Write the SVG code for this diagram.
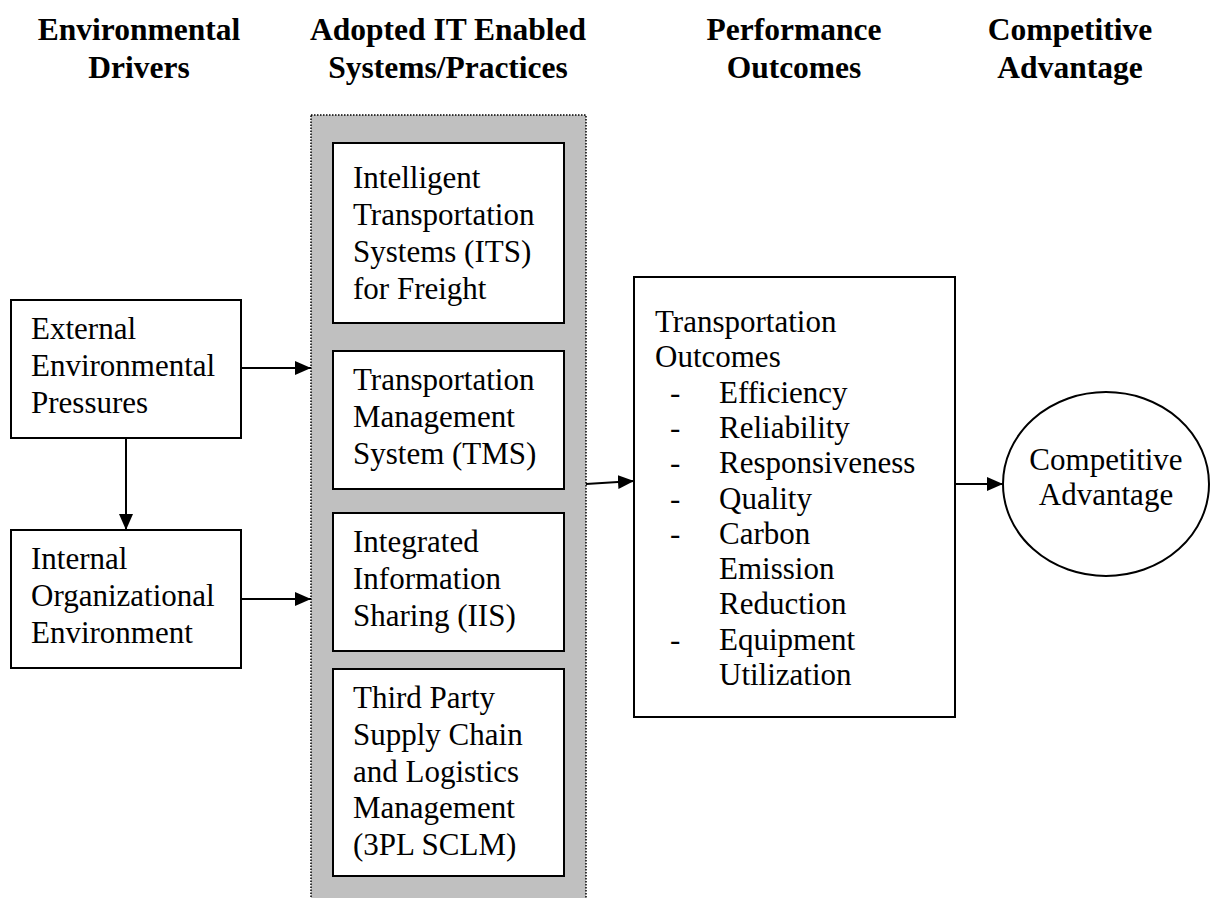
<svg xmlns="http://www.w3.org/2000/svg" width="1211" height="898" viewBox="0 0 1211 898">
<style>
.hd{font-family:"Liberation Serif","Times New Roman",serif;font-weight:bold;font-size:31.5px;fill:#000;text-anchor:middle}
.tx{font-family:"Liberation Serif","Times New Roman",serif;font-size:31px;fill:#000}
.box{fill:#fff;stroke:#000;stroke-width:2}
.ln{stroke:#000;stroke-width:2;fill:none}
</style>
<defs>
<marker id="ah" markerUnits="userSpaceOnUse" markerWidth="16" markerHeight="14" refX="16" refY="7" orient="auto">
<path d="M0,0 L16,7 L0,14 Z" fill="#000"/>
</marker>
</defs>
<rect width="1211" height="898" fill="#fff"/>
<g id="headers">
<text class="hd" x="139" y="40">Environmental</text>
<text class="hd" x="139" y="78">Drivers</text>
<text class="hd" x="448" y="40">Adopted IT Enabled</text>
<text class="hd" x="448" y="78">Systems/Practices</text>
<text class="hd" x="794" y="40">Performance</text>
<text class="hd" x="794" y="78">Outcomes</text>
<text class="hd" x="1070" y="40">Competitive</text>
<text class="hd" x="1070" y="78">Advantage</text>
</g>
<g id="external">
<rect class="box" x="11" y="300" width="230" height="138"/>
<text class="tx" x="31" y="339">External</text>
<text class="tx" x="31" y="376">Environmental</text>
<text class="tx" x="31" y="413">Pressures</text>
</g>
<g id="internal">
<rect class="box" x="11" y="530" width="230" height="138"/>
<text class="tx" x="31" y="569">Internal</text>
<text class="tx" x="31" y="606">Organizational</text>
<text class="tx" x="31" y="643">Environment</text>
</g>
<g id="it-systems">
<rect x="311" y="115" width="275" height="800" fill="#c0c0c0" stroke="#000" stroke-width="1.5" stroke-dasharray="1.5,1.5"/>
</g>
<g id="its">
<rect class="box" x="333" y="143" width="231" height="180"/>
<text class="tx" x="353" y="188">Intelligent</text>
<text class="tx" x="353" y="225">Transportation</text>
<text class="tx" x="353" y="262">Systems (ITS)</text>
<text class="tx" x="353" y="299">for Freight</text>
</g>
<g id="tms">
<rect class="box" x="333" y="351" width="231" height="138"/>
<text class="tx" x="353" y="390">Transportation</text>
<text class="tx" x="353" y="427">Management</text>
<text class="tx" x="353" y="464">System (TMS)</text>
</g>
<g id="iis">
<rect class="box" x="333" y="513" width="231" height="138"/>
<text class="tx" x="353" y="552">Integrated</text>
<text class="tx" x="353" y="589">Information</text>
<text class="tx" x="353" y="626">Sharing (IIS)</text>
</g>
<g id="sclm">
<rect class="box" x="333" y="669" width="231" height="207"/>
<text class="tx" x="353" y="708">Third Party</text>
<text class="tx" x="353" y="745">Supply Chain</text>
<text class="tx" x="353" y="782">and Logistics</text>
<text class="tx" x="353" y="818">Management</text>
<text class="tx" x="353" y="855">(3PL SCLM)</text>
</g>
<g id="outcomes">
<rect class="box" x="634" y="277" width="321" height="440"/>
<text class="tx" x="655" y="332">Transportation</text>
<text class="tx" x="655" y="367">Outcomes</text>
<text class="tx" x="670" y="403">-</text><text class="tx" x="719" y="403">Efficiency</text>
<text class="tx" x="670" y="438">-</text><text class="tx" x="719" y="438">Reliability</text>
<text class="tx" x="670" y="473">-</text><text class="tx" x="719" y="473">Responsiveness</text>
<text class="tx" x="670" y="509">-</text><text class="tx" x="719" y="509">Quality</text>
<text class="tx" x="670" y="544">-</text><text class="tx" x="719" y="544">Carbon</text>
<text class="tx" x="719" y="579">Emission</text>
<text class="tx" x="719" y="614">Reduction</text>
<text class="tx" x="670" y="650">-</text><text class="tx" x="719" y="650">Equipment</text>
<text class="tx" x="719" y="685">Utilization</text>
</g>
<g id="advantage">
<ellipse cx="1106" cy="484" rx="103" ry="92" fill="#fff" stroke="#000" stroke-width="2"/>
<text class="tx" x="1106" y="470" text-anchor="middle">Competitive</text>
<text class="tx" x="1106" y="505" text-anchor="middle">Advantage</text>
</g>
<g id="connectors">
<line class="ln" x1="241" y1="368" x2="311" y2="368" marker-end="url(#ah)"/>
<line class="ln" x1="241" y1="599" x2="311" y2="599" marker-end="url(#ah)"/>
<line class="ln" x1="126" y1="438" x2="126" y2="530" marker-end="url(#ah)"/>
<line class="ln" x1="586" y1="484" x2="634" y2="481" marker-end="url(#ah)"/>
<line class="ln" x1="955" y1="484" x2="1003" y2="484" marker-end="url(#ah)"/>
</g>
</svg>
